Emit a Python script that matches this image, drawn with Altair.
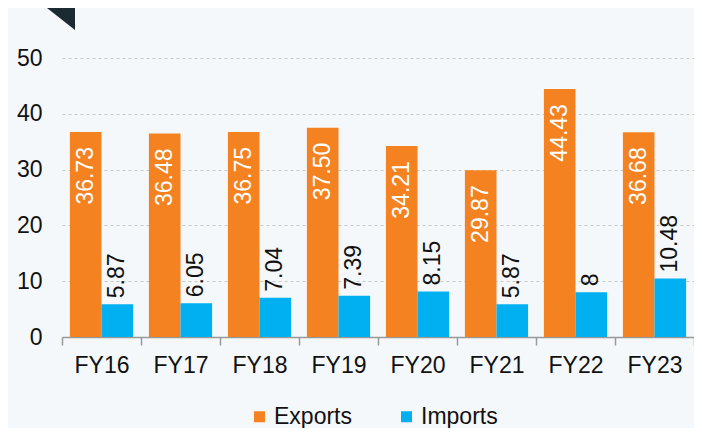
import altair as alt
import pandas as pd

years = ["FY16", "FY17", "FY18", "FY19", "FY20", "FY21", "FY22", "FY23"]
exports = [36.73, 36.48, 36.75, 37.50, 34.21, 29.87, 44.43, 36.68]
imports = [5.87, 6.05, 7.04, 7.39, 8.15, 5.87, 8, 10.48]
series = ["Exports", "Imports"]
colors = ["#F58220", "#00B0F0"]

rows = []
for i, yr in enumerate(years):
    rows.append({"year": yr, "series": "Exports", "value": exports[i], "label": f"{exports[i]:.2f}"})
    rows.append({"year": yr, "series": "Imports", "value": imports[i], "label": f"{imports[i]:g}"})
df = pd.DataFrame(rows)

FONT = "Liberation Sans"

x_enc = alt.X("year:N", sort=years, title=None,
              scale=alt.Scale(paddingInner=0, paddingOuter=0),
              axis=alt.Axis(labelAngle=0, labelFontSize=23, labelFont=FONT, labelColor="#111111",
                            tickBand="extent", tickSize=8, tickWidth=1.5, tickColor="#999999",
                            domainColor="#999999", domainWidth=1.5, labelPadding=9, grid=False))
xoff_enc = alt.XOffset("series:N", sort=series,
                       scale=alt.Scale(domain=series, paddingInner=0, paddingOuter=0.25))
y_enc = alt.Y("value:Q", title=None,
              scale=alt.Scale(domain=[0, 50], nice=False),
              axis=alt.Axis(values=[0, 10, 20, 30, 40, 50], labelFontSize=23, labelFont=FONT,
                            labelColor="#111111", ticks=False, tickSize=0, domain=False,
                            labelPadding=20, grid=True, gridColor="#c8c8c8", gridDash=[3, 3],
                            gridWidth=1))

base = alt.Chart(df)

bars = base.mark_bar().encode(
    x=x_enc,
    xOffset=xoff_enc,
    y=y_enc,
    color=alt.Color("series:N", sort=series,
                    scale=alt.Scale(domain=series, range=colors),
                    legend=alt.Legend(title=None, orient="none", legendX=186, legendY=347,
                                      direction="horizontal", symbolType="square",
                                      symbolSize=121, symbolStrokeWidth=0,
                                      labelFontSize=23, labelFont=FONT, labelColor="#111111",
                                      labelOffset=3, columnPadding=43)),
)

exp_text = base.transform_filter(alt.datum.series == "Exports").mark_text(
    angle=270, align="right", baseline="middle", dx=-15, fontSize=23, font=FONT, color="white"
).encode(x=alt.X("year:N", sort=years), xOffset=alt.XOffset("series:N", sort=series),
         y="value:Q", text="label:N")

imp_text = base.transform_filter(alt.datum.series == "Imports").mark_text(
    angle=270, align="left", baseline="middle", dx=6, fontSize=23, font=FONT, color="#111111"
).encode(x=alt.X("year:N", sort=years), xOffset=alt.XOffset("series:N", sort=series),
         y="value:Q", text="label:N")

tri_df = pd.DataFrame({"k": ["corner"]})
triangle = alt.Chart(tri_df).mark_point(
    shape="M-1,-0.786L1,-0.786L1,0.786Z", filled=True, color="#1b2b31", opacity=1, strokeWidth=0
).encode(x=alt.value(-1), y=alt.value(-39), size=alt.value(784))

chart = alt.layer(bars, exp_text, imp_text, triangle).properties(
    width=632, height=279,
    autosize=alt.AutoSizeParams(type="none"),
    padding={"left": 54, "top": 50, "right": 0, "bottom": 91},
    background="#f5f8fa",
).configure_view(stroke=None)

chart.save("out.html", embed_options={"renderer": "svg", "actions": False})
